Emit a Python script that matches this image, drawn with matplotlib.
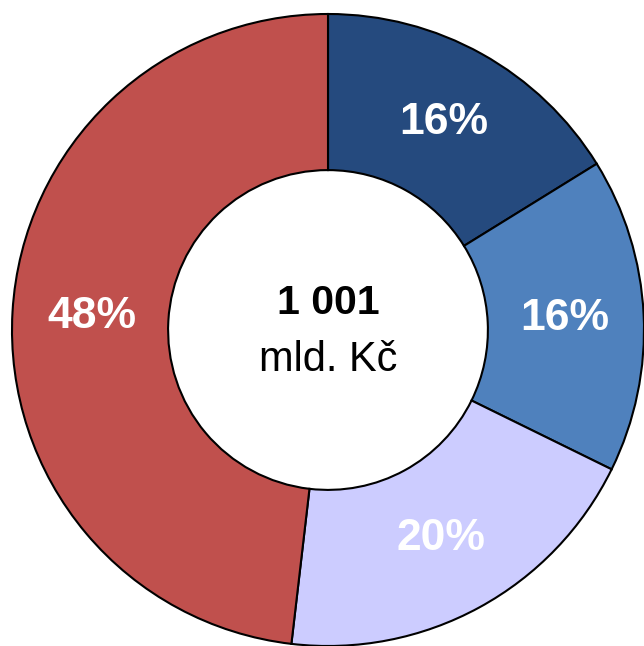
import matplotlib
matplotlib.use("Agg")
import matplotlib.pyplot as plt

# values in mld. Kc, clockwise from top
values = [162, 161, 196, 482]
colors = ["#254A7E", "#4F81BD", "#CCCCFF", "#C0504D"]
total_text = "1 001"
unit_text = "mld. Kč"

plt.rcParams['font.family'] = ['Liberation Sans', 'DejaVu Sans']

fig = plt.figure(figsize=(6.44, 6.46), dpi=100)
ax = fig.add_axes([0, 0, 1, 1])

wedges, texts, autotexts = ax.pie(
    values, colors=colors, startangle=90, counterclock=False,
    autopct=lambda p: "%d%%" % round(p), pctdistance=0.75,
    wedgeprops=dict(width=0.494, edgecolor="black", linewidth=1.5),
    textprops=dict(color="white", fontsize=32, fontweight="bold"))

ax.text(0, 0.085, total_text, ha="center", va="center", fontsize=29.5, fontweight="bold")
ax.text(0, -0.095, unit_text, ha="center", va="center", fontsize=30)

# tight crop around the ring (slightly cut at right and bottom)
ax.set_xlim(-328 / 316, 316 / 316)
ax.set_ylim(-316 / 316, 330 / 316)
ax.set_aspect("equal")
ax.axis("off")

fig.savefig("out.png", dpi=100)
